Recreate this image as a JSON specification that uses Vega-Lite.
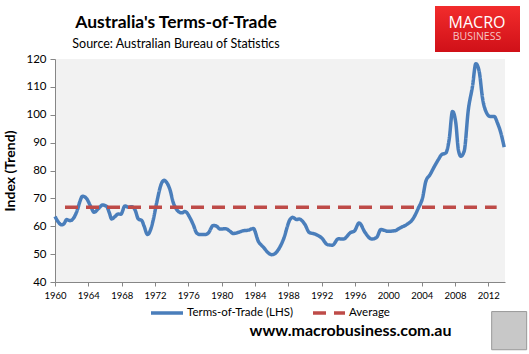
{
  "$schema": "https://vega.github.io/schema/vega-lite/v6.json",
  "width": 450,
  "height": 223,
  "autosize": {"type": "none"},
  "padding": {"left": 55, "top": 59, "right": 24, "bottom": 72},
  "background": "white",
  "config": {
    "view": {"fill": "#F2F2F2", "stroke": null},
    "font": "Lato",
    "axisX": {
      "grid": false,
      "domainColor": "#868686",
      "tickColor": "#868686",
      "tickSize": 4,
      "labelFontSize": 9.5,
      "labelColor": "#000000",
      "labelPadding": 4,
      "labelFlush": false,
      "labelOverlap": false,
      "titleFontSize": 16,
      "titleFontWeight": "bold",
      "titleColor": "#000000",
      "titleX": 295,
      "titleY": 53,
      "titleBaseline": "alphabetic"
    },
    "axisY": {
      "grid": false,
      "domainColor": "#868686",
      "tickColor": "#868686",
      "tickSize": 5,
      "labelFontSize": 11.5,
      "labelColor": "#000000",
      "labelPadding": 4,
      "labelOverlap": false,
      "titleFontSize": 14,
      "titleFontWeight": "bold",
      "titleColor": "#000000",
      "titlePadding": 8
    }
  },
  "title": {
    "text": "Australia's Terms-of-Trade",
    "subtitle": "Source: Australian Bureau of Statistics",
    "anchor": "middle",
    "frame": "group",
    "dx": -104,
    "dy": 54,
    "offset": 10,
    "font": "Lato",
    "fontSize": 17.5,
    "fontWeight": "bold",
    "color": "#000000",
    "subtitleFont": "Lato",
    "subtitleFontSize": 12.5,
    "subtitleColor": "#000000",
    "subtitlePadding": 6
  },
  "layer": [
    {
      "data": {
        "values": [
          {"year": 1960.0, "value": 63.5, "series": "Terms-of-Trade (LHS)"},
          {"year": 1960.4, "value": 61.5, "series": "Terms-of-Trade (LHS)"},
          {"year": 1960.8, "value": 60.5, "series": "Terms-of-Trade (LHS)"},
          {"year": 1961.1, "value": 61.0, "series": "Terms-of-Trade (LHS)"},
          {"year": 1961.4, "value": 62.4, "series": "Terms-of-Trade (LHS)"},
          {"year": 1961.8, "value": 62.0, "series": "Terms-of-Trade (LHS)"},
          {"year": 1962.2, "value": 62.8, "series": "Terms-of-Trade (LHS)"},
          {"year": 1962.7, "value": 66.0, "series": "Terms-of-Trade (LHS)"},
          {"year": 1963.0, "value": 69.0, "series": "Terms-of-Trade (LHS)"},
          {"year": 1963.3, "value": 70.8, "series": "Terms-of-Trade (LHS)"},
          {"year": 1963.8, "value": 69.9, "series": "Terms-of-Trade (LHS)"},
          {"year": 1964.3, "value": 67.0, "series": "Terms-of-Trade (LHS)"},
          {"year": 1964.7, "value": 65.0, "series": "Terms-of-Trade (LHS)"},
          {"year": 1965.2, "value": 66.3, "series": "Terms-of-Trade (LHS)"},
          {"year": 1965.7, "value": 67.6, "series": "Terms-of-Trade (LHS)"},
          {"year": 1966.2, "value": 67.1, "series": "Terms-of-Trade (LHS)"},
          {"year": 1966.5, "value": 65.0, "series": "Terms-of-Trade (LHS)"},
          {"year": 1966.8, "value": 62.6, "series": "Terms-of-Trade (LHS)"},
          {"year": 1967.2, "value": 63.5, "series": "Terms-of-Trade (LHS)"},
          {"year": 1967.6, "value": 64.4, "series": "Terms-of-Trade (LHS)"},
          {"year": 1967.9, "value": 64.3, "series": "Terms-of-Trade (LHS)"},
          {"year": 1968.4, "value": 67.3, "series": "Terms-of-Trade (LHS)"},
          {"year": 1968.8, "value": 66.8, "series": "Terms-of-Trade (LHS)"},
          {"year": 1969.2, "value": 67.0, "series": "Terms-of-Trade (LHS)"},
          {"year": 1969.6, "value": 65.9, "series": "Terms-of-Trade (LHS)"},
          {"year": 1970.0, "value": 62.6, "series": "Terms-of-Trade (LHS)"},
          {"year": 1970.4, "value": 62.1, "series": "Terms-of-Trade (LHS)"},
          {"year": 1970.7, "value": 60.0, "series": "Terms-of-Trade (LHS)"},
          {"year": 1971.1, "value": 57.0, "series": "Terms-of-Trade (LHS)"},
          {"year": 1971.5, "value": 59.0, "series": "Terms-of-Trade (LHS)"},
          {"year": 1971.8, "value": 62.4, "series": "Terms-of-Trade (LHS)"},
          {"year": 1972.2, "value": 68.4, "series": "Terms-of-Trade (LHS)"},
          {"year": 1972.8, "value": 75.5, "series": "Terms-of-Trade (LHS)"},
          {"year": 1973.1, "value": 76.5, "series": "Terms-of-Trade (LHS)"},
          {"year": 1973.4, "value": 75.7, "series": "Terms-of-Trade (LHS)"},
          {"year": 1973.8, "value": 73.1, "series": "Terms-of-Trade (LHS)"},
          {"year": 1974.2, "value": 68.4, "series": "Terms-of-Trade (LHS)"},
          {"year": 1974.6, "value": 66.0, "series": "Terms-of-Trade (LHS)"},
          {"year": 1974.9, "value": 65.1, "series": "Terms-of-Trade (LHS)"},
          {"year": 1975.2, "value": 64.8, "series": "Terms-of-Trade (LHS)"},
          {"year": 1975.6, "value": 65.3, "series": "Terms-of-Trade (LHS)"},
          {"year": 1976.2, "value": 63.0, "series": "Terms-of-Trade (LHS)"},
          {"year": 1976.6, "value": 60.5, "series": "Terms-of-Trade (LHS)"},
          {"year": 1977.0, "value": 57.6, "series": "Terms-of-Trade (LHS)"},
          {"year": 1977.4, "value": 57.0, "series": "Terms-of-Trade (LHS)"},
          {"year": 1978.0, "value": 57.0, "series": "Terms-of-Trade (LHS)"},
          {"year": 1978.4, "value": 57.6, "series": "Terms-of-Trade (LHS)"},
          {"year": 1979.0, "value": 60.3, "series": "Terms-of-Trade (LHS)"},
          {"year": 1979.4, "value": 60.0, "series": "Terms-of-Trade (LHS)"},
          {"year": 1979.8, "value": 59.0, "series": "Terms-of-Trade (LHS)"},
          {"year": 1980.5, "value": 59.1, "series": "Terms-of-Trade (LHS)"},
          {"year": 1981.0, "value": 58.2, "series": "Terms-of-Trade (LHS)"},
          {"year": 1981.4, "value": 57.4, "series": "Terms-of-Trade (LHS)"},
          {"year": 1982.0, "value": 57.8, "series": "Terms-of-Trade (LHS)"},
          {"year": 1982.6, "value": 58.4, "series": "Terms-of-Trade (LHS)"},
          {"year": 1983.2, "value": 58.6, "series": "Terms-of-Trade (LHS)"},
          {"year": 1983.8, "value": 59.2, "series": "Terms-of-Trade (LHS)"},
          {"year": 1984.4, "value": 54.6, "series": "Terms-of-Trade (LHS)"},
          {"year": 1985.0, "value": 52.5, "series": "Terms-of-Trade (LHS)"},
          {"year": 1985.7, "value": 50.2, "series": "Terms-of-Trade (LHS)"},
          {"year": 1986.0, "value": 49.8, "series": "Terms-of-Trade (LHS)"},
          {"year": 1986.4, "value": 50.2, "series": "Terms-of-Trade (LHS)"},
          {"year": 1986.8, "value": 51.6, "series": "Terms-of-Trade (LHS)"},
          {"year": 1987.4, "value": 55.2, "series": "Terms-of-Trade (LHS)"},
          {"year": 1988.2, "value": 62.4, "series": "Terms-of-Trade (LHS)"},
          {"year": 1988.5, "value": 63.2, "series": "Terms-of-Trade (LHS)"},
          {"year": 1989.0, "value": 62.4, "series": "Terms-of-Trade (LHS)"},
          {"year": 1989.3, "value": 62.6, "series": "Terms-of-Trade (LHS)"},
          {"year": 1990.0, "value": 60.6, "series": "Terms-of-Trade (LHS)"},
          {"year": 1990.5, "value": 57.8, "series": "Terms-of-Trade (LHS)"},
          {"year": 1991.2, "value": 57.2, "series": "Terms-of-Trade (LHS)"},
          {"year": 1992.0, "value": 55.8, "series": "Terms-of-Trade (LHS)"},
          {"year": 1992.7, "value": 53.4, "series": "Terms-of-Trade (LHS)"},
          {"year": 1993.3, "value": 53.2, "series": "Terms-of-Trade (LHS)"},
          {"year": 1994.0, "value": 55.5, "series": "Terms-of-Trade (LHS)"},
          {"year": 1994.6, "value": 55.4, "series": "Terms-of-Trade (LHS)"},
          {"year": 1995.5, "value": 57.8, "series": "Terms-of-Trade (LHS)"},
          {"year": 1995.9, "value": 58.2, "series": "Terms-of-Trade (LHS)"},
          {"year": 1996.5, "value": 61.2, "series": "Terms-of-Trade (LHS)"},
          {"year": 1997.2, "value": 57.8, "series": "Terms-of-Trade (LHS)"},
          {"year": 1998.0, "value": 55.4, "series": "Terms-of-Trade (LHS)"},
          {"year": 1998.6, "value": 56.0, "series": "Terms-of-Trade (LHS)"},
          {"year": 1999.1, "value": 58.8, "series": "Terms-of-Trade (LHS)"},
          {"year": 2000.0, "value": 58.2, "series": "Terms-of-Trade (LHS)"},
          {"year": 2000.8, "value": 58.4, "series": "Terms-of-Trade (LHS)"},
          {"year": 2001.4, "value": 59.4, "series": "Terms-of-Trade (LHS)"},
          {"year": 2002.2, "value": 60.6, "series": "Terms-of-Trade (LHS)"},
          {"year": 2002.9, "value": 62.4, "series": "Terms-of-Trade (LHS)"},
          {"year": 2003.6, "value": 66.5, "series": "Terms-of-Trade (LHS)"},
          {"year": 2004.1, "value": 70.1, "series": "Terms-of-Trade (LHS)"},
          {"year": 2004.5, "value": 76.1, "series": "Terms-of-Trade (LHS)"},
          {"year": 2005.0, "value": 78.5, "series": "Terms-of-Trade (LHS)"},
          {"year": 2005.5, "value": 81.3, "series": "Terms-of-Trade (LHS)"},
          {"year": 2006.0, "value": 83.9, "series": "Terms-of-Trade (LHS)"},
          {"year": 2006.4, "value": 85.7, "series": "Terms-of-Trade (LHS)"},
          {"year": 2006.9, "value": 86.3, "series": "Terms-of-Trade (LHS)"},
          {"year": 2007.3, "value": 91.1, "series": "Terms-of-Trade (LHS)"},
          {"year": 2007.7, "value": 101.2, "series": "Terms-of-Trade (LHS)"},
          {"year": 2008.1, "value": 97.0, "series": "Terms-of-Trade (LHS)"},
          {"year": 2008.4, "value": 87.5, "series": "Terms-of-Trade (LHS)"},
          {"year": 2008.7, "value": 85.1, "series": "Terms-of-Trade (LHS)"},
          {"year": 2009.1, "value": 86.9, "series": "Terms-of-Trade (LHS)"},
          {"year": 2009.6, "value": 101.8, "series": "Terms-of-Trade (LHS)"},
          {"year": 2010.1, "value": 110.2, "series": "Terms-of-Trade (LHS)"},
          {"year": 2010.5, "value": 118.3, "series": "Terms-of-Trade (LHS)"},
          {"year": 2010.9, "value": 115.6, "series": "Terms-of-Trade (LHS)"},
          {"year": 2011.3, "value": 106.0, "series": "Terms-of-Trade (LHS)"},
          {"year": 2011.8, "value": 100.6, "series": "Terms-of-Trade (LHS)"},
          {"year": 2012.2, "value": 99.4, "series": "Terms-of-Trade (LHS)"},
          {"year": 2012.7, "value": 99.4, "series": "Terms-of-Trade (LHS)"},
          {"year": 2013.1, "value": 97.0, "series": "Terms-of-Trade (LHS)"},
          {"year": 2013.5, "value": 93.5, "series": "Terms-of-Trade (LHS)"},
          {"year": 2013.9, "value": 88.4, "series": "Terms-of-Trade (LHS)"},
          {"year": 1961.2, "value": 66.8, "series": "Average"},
          {"year": 2013.0, "value": 66.8, "series": "Average"}
        ]
      },
      "mark": {"type": "line", "strokeWidth": 3.5, "interpolate": "monotone", "strokeCap": "butt"},
      "encoding": {
        "x": {
          "field": "year",
          "type": "quantitative",
          "title": "www.macrobusiness.com.au",
          "scale": {"domain": [1960, 2014], "nice": false, "zero": false},
          "axis": {
            "values": [1960, 1964, 1968, 1972, 1976, 1980, 1984, 1988, 1992, 1996, 2000, 2004, 2008, 2012],
            "tickCount": 30,
            "format": "d"
          }
        },
        "y": {
          "field": "value",
          "type": "quantitative",
          "title": "Index (Trend)",
          "scale": {"domain": [40, 120], "nice": false, "zero": false},
          "axis": {
            "values": [40, 50, 60, 70, 80, 90, 100, 110, 120],
            "tickCount": 20
          }
        },
        "color": {
          "field": "series",
          "type": "nominal",
          "scale": {"domain": ["Terms-of-Trade (LHS)", "Average"], "range": ["#4A7EBB", "#BE4B48"]},
          "legend": {
            "title": null,
            "orient": "none",
            "direction": "horizontal",
            "legendX": 94,
            "legendY": 236,
            "symbolType": "stroke",
            "symbolSize": 1024,
            "symbolStrokeWidth": 3.5,
            "labelFontSize": 11.5,
            "labelColor": "#000000",
            "labelOffset": 2,
            "columnPadding": 12
          }
        },
        "strokeDash": {
          "field": "series",
          "type": "nominal",
          "scale": {"domain": ["Terms-of-Trade (LHS)", "Average"], "range": [[1, 0], [13, 8]]},
          "legend": {
            "title": null,
            "orient": "none",
            "direction": "horizontal",
            "legendX": 94,
            "legendY": 236,
            "symbolType": "stroke",
            "symbolSize": 1024,
            "symbolStrokeWidth": 3.5,
            "labelFontSize": 11.5,
            "labelColor": "#000000",
            "labelOffset": 2,
            "columnPadding": 12
          }
        }
      }
    },
    {
      "data": {"values": [{}]},
      "mark": {
        "type": "rect",
        "fill": {"gradient": "linear", "x1": 0, "y1": 0, "x2": 0, "y2": 1, "stops": [{"offset": 0, "color": "#F22C2C"}, {"offset": 1, "color": "#D01018"}]}
      },
      "encoding": {
        "x": {"datum": 2005.6},
        "x2": {"datum": 2015.8},
        "y": {"datum": 139.0},
        "y2": {"datum": 122.5}
      }
    },
    {
      "data": {"values": [{}]},
      "mark": {"type": "text", "text": "MACRO", "color": "#FFFFFF", "fontSize": 16, "font": "Open Sans", "fontWeight": "normal", "align": "center", "baseline": "alphabetic"},
      "encoding": {"x": {"datum": 2010.64}, "y": {"datum": 131.2}}
    },
    {
      "data": {"values": [{}]},
      "mark": {"type": "text", "text": "BUSINESS", "color": "#F6C6C6", "fontSize": 10.5, "font": "Open Sans", "fontWeight": "normal", "align": "center", "baseline": "alphabetic", "letterSpacing": 1.5},
      "encoding": {"x": {"datum": 2010.64}, "y": {"datum": 126.8}}
    },
    {
      "data": {"values": [{}]},
      "mark": {"type": "rect", "fill": "#C8C8C8", "stroke": "#9A9A9A", "strokeWidth": 1},
      "encoding": {
        "x": {"datum": 2012.4},
        "x2": {"datum": 2016.6},
        "y": {"datum": 29.4},
        "y2": {"datum": 15.7}
      }
    }
  ]
}
